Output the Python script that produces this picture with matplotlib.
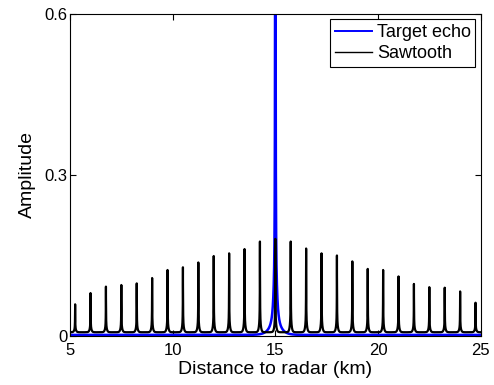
import numpy as np
import matplotlib
matplotlib.use("Agg")
import matplotlib.pyplot as plt

plt.rcParams['font.family'] = ['Liberation Sans', 'DejaVu Sans']

# Sawtooth peak positions (km) and heights
saw_centers = [5.25, 6.0, 6.75, 7.5, 8.25, 9.0, 9.75, 10.5, 11.25, 12.0, 12.75,
               13.5, 14.25, 15.0, 15.75, 16.5, 17.25, 18.0, 18.75, 19.5, 20.25,
               21.0, 21.75, 22.5, 23.25, 24.0, 24.75]
saw_heights = [0.052, 0.073, 0.085, 0.088, 0.091, 0.101, 0.116, 0.121, 0.130,
               0.142, 0.147, 0.155, 0.169, 0.174, 0.169, 0.156, 0.147, 0.143,
               0.132, 0.118, 0.116, 0.104, 0.090, 0.084, 0.083, 0.076, 0.055]
# peak profile: (relative weight, decay width in km)
saw_profile = [(0.72, 0.006), (0.28, 0.035)]
saw_floor = 0.007

# Target echo peak profile at 15 km: (amplitude, decay width in km)
target_center = 15.0
target_profile = [(1.5, 0.010), (0.25, 0.05), (0.06, 0.2)]
target_floor = 0.002

x = np.linspace(5, 25, 40001)

saw = np.full_like(x, saw_floor)
for c, h in zip(saw_centers, saw_heights):
    for wt, w in saw_profile:
        saw += h * wt * np.exp(-np.abs(x - c) / w)

target = np.full_like(x, target_floor)
for a, w in target_profile:
    target += a * np.exp(-np.abs(x - target_center) / w)

fig = plt.figure(figsize=(4.94, 3.85), dpi=100)
ax = fig.add_axes([0.1417, 0.1273, 0.8313, 0.8364])

ax.plot(x, target, color='#0000ff', lw=1.8, label='Target echo')
ax.plot(x, saw, color='black', lw=1.6, label='Sawtooth')

ax.set_xlim(5, 25)
ax.set_ylim(0, 0.6)
ax.set_xticks([5, 10, 15, 20, 25])
ax.set_yticks([0, 0.3, 0.6])
ax.set_yticklabels(['0', '0.3', '0.6'])
ax.tick_params(direction='in', top=True, right=True, labelsize=12, length=4,
               width=0.8)
ax.tick_params(axis='x', pad=5)
ax.tick_params(axis='y', pad=2)
for s in ax.spines.values():
    s.set_linewidth(0.8)

ax.set_xlabel('Distance to radar (km)', fontsize=14, labelpad=2)
ax.set_ylabel('Amplitude', fontsize=14, labelpad=6)

leg = ax.legend(loc='upper right', fontsize=13, frameon=True, fancybox=False,
                edgecolor='black', framealpha=1, borderpad=0.25,
                handlelength=2.05, handletextpad=0.28, labelspacing=0.25,
                borderaxespad=0.3)
leg.get_frame().set_linewidth(0.8)
leg.legend_handles[0].set_linewidth(1.4)
leg.legend_handles[1].set_linewidth(1.0)

fig.savefig('out.png', dpi=100)
